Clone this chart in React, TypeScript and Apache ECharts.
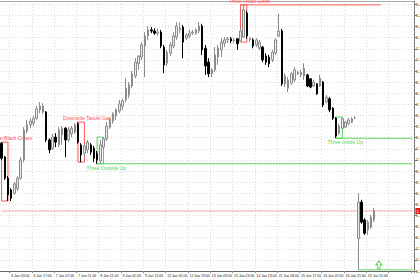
import React, { useEffect, useRef } from "react";
import * as echarts from "echarts";

// x-axis tick labels (one every 7 bars, starting at bar 3)
const tickLabels = [
  "6 Jan 03:00", "6 Jan 17:00", "7 Jan 07:00", "7 Jan 21:00", "8 Jan 11:00",
  "9 Jan 01:00", "9 Jan 15:00", "12 Jan 05:00", "12 Jan 19:00", "13 Jan 09:00",
  "13 Jan 23:00", "14 Jan 13:00", "15 Jan 03:00", "15 Jan 17:00", "16 Jan 07:00",
  "16 Jan 21:00", "19 Jan 11:00",
];
const FIRST_TICK = 3;
const TICK_STEP = 7;
const BAR_SLOTS = 130; // bars + right shift

// [open, close, low, high]
const ohlc: number[][] = [
  [1.1790, 1.1763, 1.1760, 1.1792],
  [1.1765, 1.1727, 1.1724, 1.1767],
  [1.1727, 1.1697, 1.1686, 1.1731],
  [1.1706, 1.1691, 1.1686, 1.1709],
  [1.1700, 1.1717, 1.1697, 1.1720],
  [1.1708, 1.1727, 1.1704, 1.1731],
  [1.1727, 1.1760, 1.1724, 1.1765],
  [1.1760, 1.1814, 1.1756, 1.1819],
  [1.1812, 1.1823, 1.1808, 1.1832],
  [1.1823, 1.1830, 1.1817, 1.1835],
  [1.1826, 1.1835, 1.1821, 1.1839],
  [1.1835, 1.1852, 1.1832, 1.1857],
  [1.1850, 1.1857, 1.1844, 1.1864],
  [1.1846, 1.1857, 1.1843, 1.1862],
  [1.1846, 1.1796, 1.1792, 1.1848],
  [1.1796, 1.1778, 1.1772, 1.1799],
  [1.1781, 1.1801, 1.1778, 1.1807],
  [1.1801, 1.1792, 1.1783, 1.1808],
  [1.1787, 1.1814, 1.1783, 1.1819],
  [1.1805, 1.1817, 1.1787, 1.1821],
  [1.1817, 1.1796, 1.1765, 1.1819],
  [1.1796, 1.1814, 1.1792, 1.1819],
  [1.1807, 1.1817, 1.1801, 1.1821],
  [1.1810, 1.1823, 1.1807, 1.1826],
  [1.1825, 1.1792, 1.1789, 1.1828],
  [1.1787, 1.1769, 1.1756, 1.1790],
  [1.1772, 1.1785, 1.1767, 1.1790],
  [1.1778, 1.1792, 1.1772, 1.1796],
  [1.1787, 1.1774, 1.1769, 1.1790],
  [1.1781, 1.1763, 1.1756, 1.1785],
  [1.1772, 1.1760, 1.1753, 1.1776],
  [1.1758, 1.1787, 1.1753, 1.1796],
  [1.1783, 1.1798, 1.1780, 1.1801],
  [1.1798, 1.1821, 1.1794, 1.1828],
  [1.1819, 1.1832, 1.1816, 1.1835],
  [1.1830, 1.1843, 1.1825, 1.1846],
  [1.1839, 1.1850, 1.1832, 1.1853],
  [1.1848, 1.1861, 1.1844, 1.1868],
  [1.1857, 1.1866, 1.1850, 1.1870],
  [1.1868, 1.1889, 1.1864, 1.1907],
  [1.1877, 1.1895, 1.1871, 1.1900],
  [1.1893, 1.1915, 1.1889, 1.1920],
  [1.1911, 1.1936, 1.1907, 1.1943],
  [1.1933, 1.1947, 1.1922, 1.1949],
  [1.1945, 1.1967, 1.1940, 1.1972],
  [1.1965, 1.1983, 1.1909, 1.1990],
  [1.1983, 1.1994, 1.1976, 1.2001],
  [1.1994, 1.1992, 1.1988, 1.1999],
  [1.1992, 1.1988, 1.1985, 1.1997],
  [1.1988, 1.1990, 1.1983, 1.1996],
  [1.1990, 1.1965, 1.1961, 1.1994],
  [1.1963, 1.1931, 1.1916, 1.1967],
  [1.1934, 1.1954, 1.1929, 1.1958],
  [1.1952, 1.1967, 1.1947, 1.1972],
  [1.1965, 1.1983, 1.1961, 1.1990],
  [1.1981, 1.2001, 1.1976, 1.2008],
  [1.1994, 1.1997, 1.1988, 1.2008],
  [1.1999, 1.1972, 1.1943, 1.2003],
  [1.1979, 1.1985, 1.1976, 1.1988],
  [1.1983, 1.1988, 1.1979, 1.1994],
  [1.1988, 1.1990, 1.1985, 1.1994],
  [1.1988, 1.1994, 1.1985, 1.1997],
  [1.1992, 1.2001, 1.1988, 1.2008],
  [1.2001, 1.1958, 1.1949, 1.2005],
  [1.1961, 1.1929, 1.1913, 1.1967],
  [1.1936, 1.1915, 1.1909, 1.1943],
  [1.1915, 1.1922, 1.1909, 1.1925],
  [1.1922, 1.1949, 1.1918, 1.1963],
  [1.1945, 1.1961, 1.1931, 1.1967],
  [1.1958, 1.1972, 1.1945, 1.1979],
  [1.1970, 1.1976, 1.1963, 1.1981],
  [1.1976, 1.1978, 1.1970, 1.1981],
  [1.1978, 1.1974, 1.1970, 1.1981],
  [1.1974, 1.1976, 1.1970, 1.1979],
  [1.1978, 1.1969, 1.1958, 1.1979],
  [1.1974, 1.1992, 1.1972, 1.1996],
  [1.1981, 1.2030, 1.1979, 1.2039],
  [1.2024, 1.1983, 1.1978, 1.2028],
  [1.1976, 1.1979, 1.1972, 1.1981],
  [1.1976, 1.1965, 1.1961, 1.1979],
  [1.1967, 1.1976, 1.1963, 1.1979],
  [1.1961, 1.1972, 1.1958, 1.1976],
  [1.1963, 1.1940, 1.1936, 1.1965],
  [1.1947, 1.1936, 1.1931, 1.1952],
  [1.1945, 1.1933, 1.1927, 1.1949],
  [1.1940, 1.1954, 1.1936, 1.1958],
  [1.1952, 1.1976, 1.1949, 1.1979],
  [1.1983, 1.1992, 1.1981, 1.2023],
  [1.1992, 1.1897, 1.1893, 1.1996],
  [1.1897, 1.1911, 1.1891, 1.1916],
  [1.1889, 1.1904, 1.1882, 1.1909],
  [1.1898, 1.1915, 1.1895, 1.1918],
  [1.1904, 1.1922, 1.1900, 1.1927],
  [1.1915, 1.1918, 1.1913, 1.1920],
  [1.1913, 1.1918, 1.1909, 1.1922],
  [1.1911, 1.1925, 1.1904, 1.1934],
  [1.1913, 1.1893, 1.1891, 1.1915],
  [1.1906, 1.1891, 1.1889, 1.1907],
  [1.1893, 1.1900, 1.1891, 1.1904],
  [1.1897, 1.1879, 1.1877, 1.1898],
  [1.1893, 1.1907, 1.1891, 1.1913],
  [1.1900, 1.1859, 1.1855, 1.1902],
  [1.1864, 1.1873, 1.1862, 1.1877],
  [1.1870, 1.1850, 1.1846, 1.1873],
  [1.1853, 1.1835, 1.1832, 1.1855],
  [1.1835, 1.1803, 1.1799, 1.1837],
  [1.1808, 1.1821, 1.1805, 1.1825],
  [1.1817, 1.1834, 1.1816, 1.1835],
  [1.1819, 1.1828, 1.1817, 1.1830],
  [1.1825, 1.1832, 1.1823, 1.1835],
  [1.1828, 1.1834, 1.1826, 1.1837],
  [1.1835, 1.1835, 1.1834, 1.1839],
  [1.1618, 1.1684, 1.1562, 1.1700],
  [1.1684, 1.1648, 1.1645, 1.1688],
  [1.1652, 1.1628, 1.1625, 1.1655],
  [1.1634, 1.1648, 1.1625, 1.1652],
  [1.1639, 1.1657, 1.1636, 1.1661],
  [1.1652, 1.1668, 1.1648, 1.1673],
];

const patterns = [
  { name: "Three Black Crows", from: 0, to: 2, bull: false },
  { name: "Downside Tasuki Gap", from: 24, to: 26, bull: false },
  { name: "Three Outside Up", from: 30, to: 32, bull: true },
  { name: "Three Inside Down", from: 75, to: 77, bull: false },
  { name: "Three Inside Up", from: 105, to: 107, bull: true },
];
// horizontal levels drawn from a pattern's high or low
const levels = [
  { pattern: 3, edge: "high", to: 119 },
  { pattern: 2, edge: "low", to: BAR_SLOTS - 1 },
  { pattern: 4, edge: "low", to: BAR_SLOTS - 1 },
];
const supportBar = 112;
const arrowBar = 118;

const Y_MIN = 1.156;
const Y_MAX = 1.2046;
const Y_STEP = 0.002;

const RED = "#ff5555";
const GREEN = "#5ad25a";
const FONT = "Liberation Sans, Arial, sans-serif";

export default function App() {
  const ref = useRef<HTMLDivElement>(null);
  useEffect(() => {
    document.body.style.margin = "0";
    if (!ref.current) return;
    const chart = echarts.init(ref.current, undefined, { renderer: "svg" });
    const cats = Array.from({ length: BAR_SLOTS }, (_, i) => String(i));
    const isTick = (i: number) => i >= FIRST_TICK && (i - FIRST_TICK) % TICK_STEP === 0;
    const range = (p: { from: number; to: number }) => {
      const s = ohlc.slice(p.from, p.to + 1);
      return { hi: Math.max(...s.map((d) => d[3])), lo: Math.min(...s.map((d) => d[2])) };
    };
    const bid = ohlc[ohlc.length - 1][1];
    const supportLow = ohlc[supportBar][2];
    const segment = (from: number, to: number, v: number) =>
      cats.map((_, i) => (i >= from && i <= to ? v : null));

    const areaData = patterns.map((p) => {
      const { hi, lo } = range(p);
      const color = p.bull ? GREEN : RED;
      return [
        {
          name: p.name,
          coord: [p.from, hi],
          itemStyle: { color: "rgba(0,0,0,0)", borderColor: color, borderWidth: 1 },
          label: {
            show: true,
            position: p.bull ? "bottom" : "top",
            distance: 1,
            offset: [6, 0],
            color,
            fontSize: 5,
            fontFamily: FONT,
          },
        },
        { coord: [p.to, lo] },
      ];
    });

    const levelSeries = levels.map((l) => {
      const p = patterns[l.pattern];
      const { hi, lo } = range(p);
      const v = l.edge === "high" ? hi : lo;
      return {
        type: "line",
        data: segment(p.from, l.to, v),
        showSymbol: false,
        silent: true,
        connectNulls: false,
        lineStyle: { color: p.bull ? GREEN : RED, width: 1 },
        z: 3,
      };
    });

    chart.setOption({
      animation: false,
      grid: { left: 0, right: 6, top: 1, bottom: 9, containLabel: false, outerBoundsMode: "none" },
      xAxis: [
        {
          type: "category",
          data: cats,
          boundaryGap: true,
          axisLine: { show: true, lineStyle: { color: "#666" } },
          axisTick: { show: true, length: 2, interval: (i: number) => isTick(i), lineStyle: { color: "#888" } },
          axisLabel: {
            show: true,
            interval: (i: number) => isTick(i),
            formatter: (_v: string, i: number) =>
              isTick(i) ? tickLabels[(i - FIRST_TICK) / TICK_STEP] ?? "" : "",
            align: "left",
            fontSize: 3.5,
            margin: 3,
            color: "#222",
            fontFamily: FONT,
          },
          splitLine: {
            show: true,
            interval: (i: number) => isTick(i),
            lineStyle: { color: "#dcdcdc", type: [1, 2] },
          },
        },
        {
          type: "category",
          data: cats,
          position: "top",
          axisLine: { show: true, lineStyle: { color: "#aaa" } },
          axisTick: { show: false },
          axisLabel: { show: false },
          splitLine: { show: false },
        },
      ],
      yAxis: {
        type: "value",
        position: "right",
        min: Y_MIN,
        max: Y_MAX,
        interval: Y_STEP,
        axisLine: { show: true, lineStyle: { color: "#777" } },
        axisTick: { show: true, length: 3, lineStyle: { color: "#777" } },
        axisLabel: {
          fontSize: 4,
          margin: 2,
          color: "#222",
          showMaxLabel: false,
          formatter: (v: number) => v.toFixed(4),
          fontFamily: FONT,
        },
        splitLine: { show: true, lineStyle: { color: "#dcdcdc", type: [1, 2] } },
      },
      series: [
        {
          type: "line",
          data: cats.map(() => bid),
          showSymbol: false,
          silent: true,
          lineStyle: { color: "#f2a3a3", width: 1 },
          z: 1,
          endLabel: {
            show: true,
            distance: 3,
            formatter: bid.toFixed(4),
            backgroundColor: "#e01b1b",
            color: "#fff",
            fontSize: 4,
            padding: [1, 1],
            fontFamily: FONT,
          },
        },
        ...levelSeries,
        {
          type: "line",
          data: segment(supportBar, BAR_SLOTS - 1, supportLow),
          showSymbol: false,
          silent: true,
          lineStyle: { color: GREEN, width: 1 },
          z: 3,
          markPoint: {
            silent: true,
            data: [
              {
                coord: [arrowBar, supportLow],
                symbol: "path://M5,0L10,5L7,5L7,10L3,10L3,5L0,5Z",
                symbolSize: [6, 8],
                symbolOffset: [1.5, -5],
                itemStyle: { color: "rgba(0,0,0,0)", borderColor: GREEN, borderWidth: 1 },
                label: { show: false },
              },
            ],
          },
        },
        {
          type: "candlestick",
          xAxisIndex: 0,
          data: ohlc,
          barWidth: 2,
          z: 2,
          itemStyle: {
            color: "#ececec",
            color0: "#000000",
            borderColor: "#8c8c8c",
            borderColor0: "#000000",
            borderWidth: 1,
          },
          markArea: { silent: true, data: areaData },
        },
      ],
    });
    return () => chart.dispose();
  }, []);
  return (
    <div
      ref={ref}
      style={{ position: "fixed", left: 0, top: 0, width: 420, height: 280, background: "#fff" }}
    />
  );
}
